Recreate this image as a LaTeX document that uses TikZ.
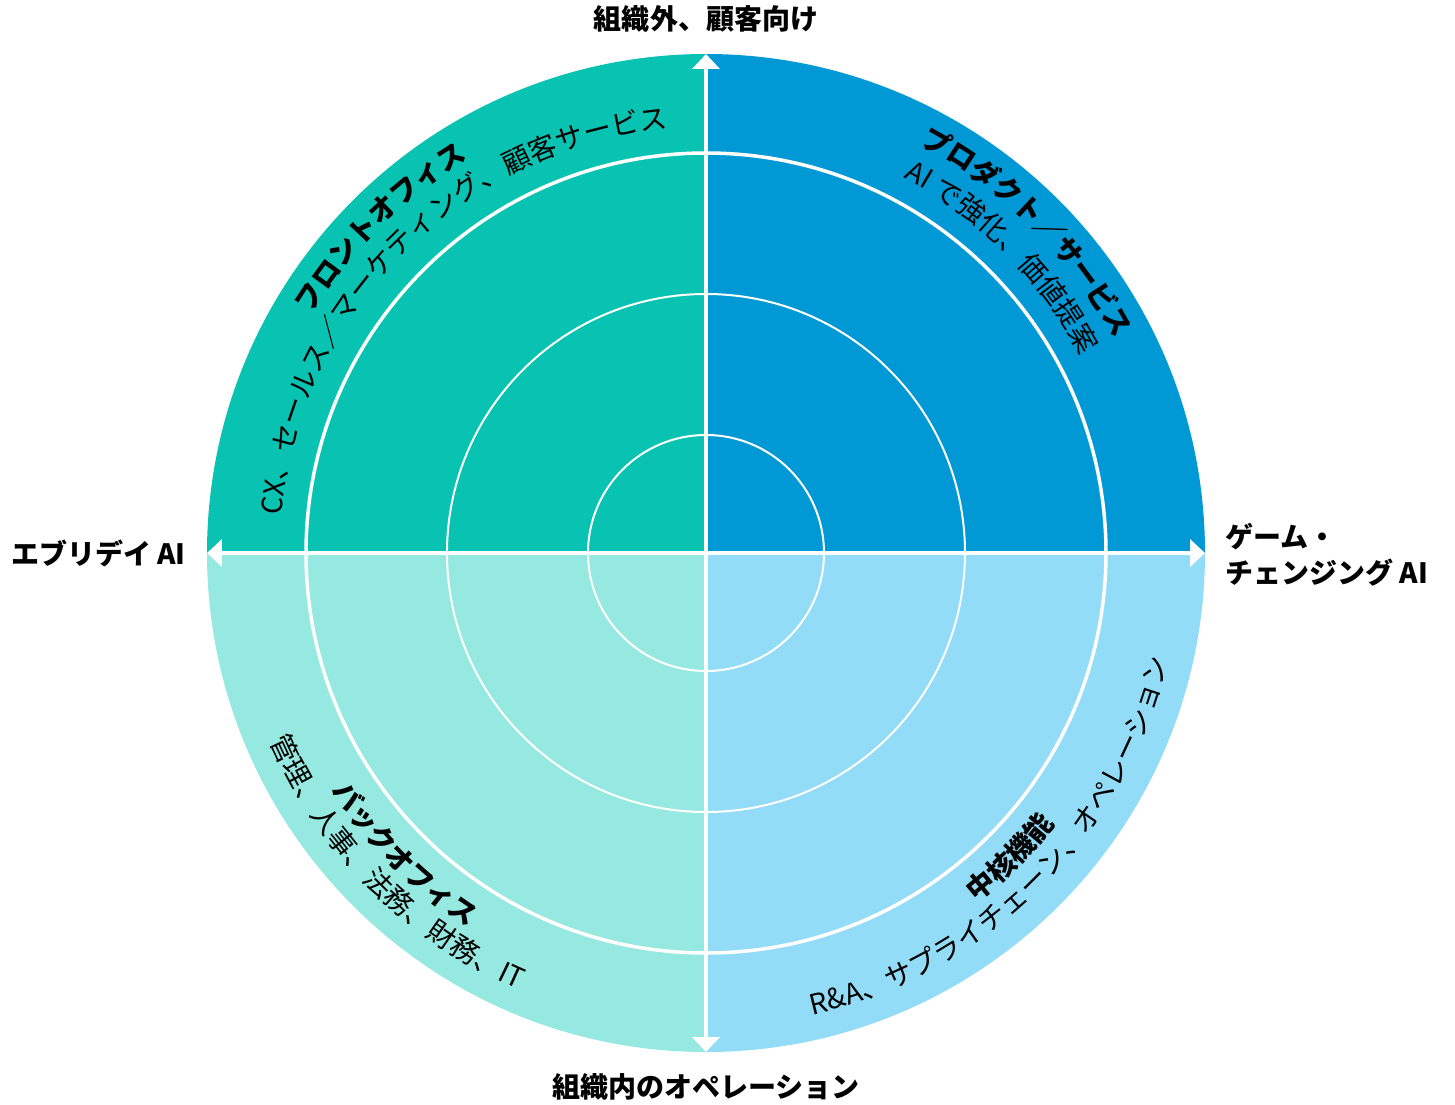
\documentclass[tikz,border=0pt]{standalone}
\usepackage{fontspec}
\setmainfont{Noto Sans CJK JP}
\usetikzlibrary{arrows.meta,decorations.text}
\definecolor{cTL}{HTML}{08C3B2}
\definecolor{cTR}{HTML}{0099D6}
\definecolor{cBL}{HTML}{96E9E0}
\definecolor{cBR}{HTML}{92DCF8}
\newcommand\arcreg{\fontsize{28}{34}\selectfont}
\newcommand\arcbld{\fontsize{28}{34}\selectfont\bfseries}
\begin{document}
\begin{tikzpicture}[x=1pt,y=1pt,
  axisarrow/.style={white, line width=4pt, -{Triangle[width=27pt,length=15pt]}},
  ring/.style={white, line width=2pt},
  mainring/.style={white, line width=3.5pt},
  axlabel/.style={font=\fontsize{28}{36}\selectfont\bfseries, text=black, inner sep=0pt},
  arctext/.style={decorate, decoration={text along path, text align=center, text={#1}}},
]
\useasboundingbox (-706,-551) rectangle (749,553);
\coordinate (O) at (0,0);
\coordinate (N) at (90:499);
\coordinate (S) at (270:499);
\coordinate (E) at (0:499);
\coordinate (W) at (180:499);
% quadrants
\fill[cTL] (O) -- (W) arc[start angle=180,end angle=90,radius=499] -- cycle;
\fill[cTR] (O) -- (N) arc[start angle=90,end angle=0,radius=499] -- cycle;
\fill[cBL] (O) -- (W) arc[start angle=180,end angle=270,radius=499] -- cycle;
\fill[cBR] (O) -- (S) arc[start angle=270,end angle=360,radius=499] -- cycle;
% rings
\draw[mainring] (O) circle[radius=400];
\draw[ring] (O) circle[radius=259];
\draw[ring] (O) circle[radius=118];
% axes
\draw[axisarrow] (O) -- (N);
\draw[axisarrow] (O) -- (S);
\draw[axisarrow] (O) -- (E);
\draw[axisarrow] (O) -- (W);
% axis labels
\node[axlabel] (top) at (0,534) {組織外、顧客向け};
\node[axlabel] (bot) at (0,-534) {組織内のオペレーション};
\node[axlabel, anchor=east] (lft) at (-520,0) {エブリデイ AI};
\node[axlabel, anchor=west, align=left] (rgt) at (519,-2) {ゲーム・\\チェンジング AI};
% curved texts, top-left
\path[arctext={|\arcbld|フロントオフィス}] (180:461) arc[start angle=180,end angle=90,radius=461];
\path[arctext={|\arcreg|CX、セールス／マーケティング、顧客サービス}] (180:426) arc[start angle=180,end angle=90,radius=426];
% top-right
\path[arctext={|\arcbld|プロダクト／サービス}] (90:461) arc[start angle=90,end angle=0,radius=461];
\path[arctext={|\arcreg|AI で強化、価値提案}] (90:424) arc[start angle=90,end angle=0,radius=424];
% bottom-left
\path[arctext={|\arcbld|バックオフィス}] (180:443) arc[start angle=180,end angle=270,radius=443];
\path[arctext={|\arcreg|管理、人事、法務、財務、IT}] (180:475) arc[start angle=180,end angle=270,radius=475];
% bottom-right
\path[arctext={|\arcbld|中核機能}] (270:442) arc[start angle=270,end angle=360,radius=442];
\path[arctext={|\arcreg|R{\&}A、サプライチェーン、オペレーション}] (270:474) arc[start angle=270,end angle=360,radius=474];
\end{tikzpicture}
\end{document}
